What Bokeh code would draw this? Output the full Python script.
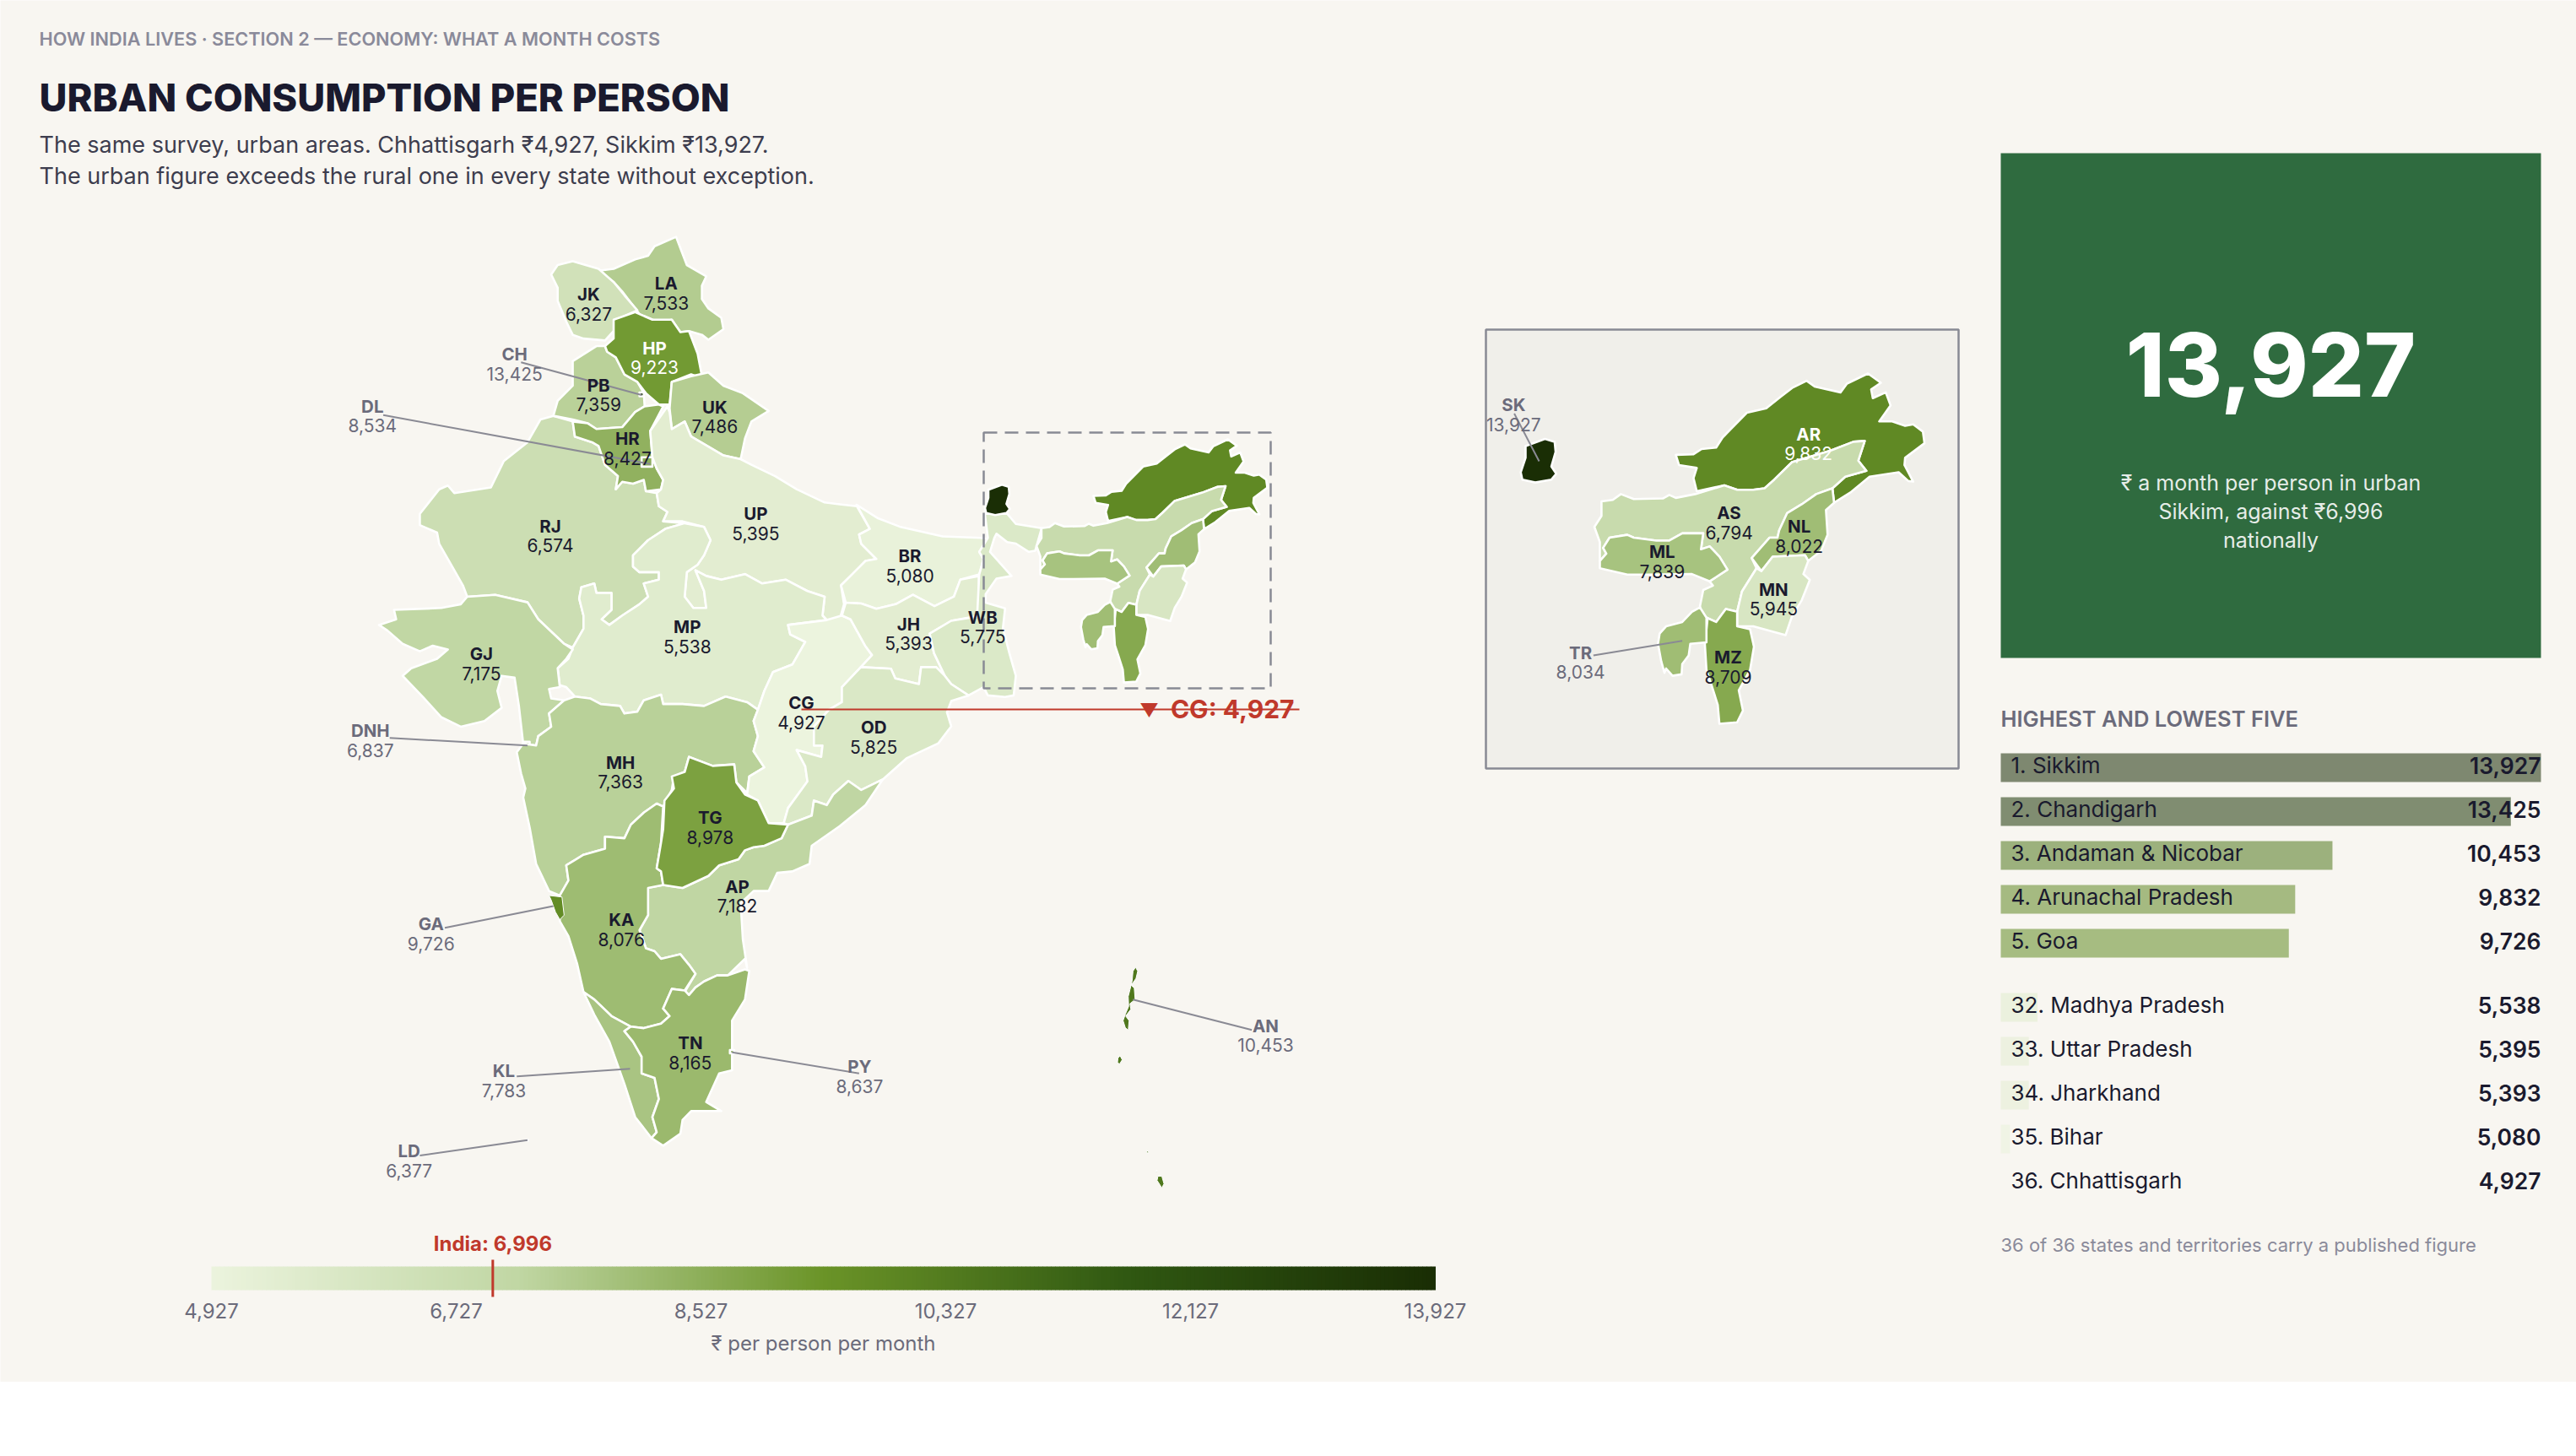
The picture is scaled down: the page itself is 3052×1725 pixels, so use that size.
from bokeh.core.properties import value
from bokeh.embed import file_html
from bokeh.plotting import figure
from bokeh.resources import INLINE
import numpy as np

# Monthly consumption per person, urban, rupees
VALUES = {
    "JK": 6327, "LA": 7533, "HP": 9223, "CH": 13425, "PB": 7359, "DL": 8534, "UK": 7486, "HR": 8427,
    "RJ": 6574, "UP": 5395, "BR": 5080, "GJ": 7175, "MP": 5538, "JH": 5393, "WB": 5775, "CG": 4927,
    "OD": 5825, "DNH": 6837, "MH": 7363, "TG": 8978, "AP": 7182, "KA": 8076, "GA": 9726, "TN": 8165,
    "KL": 7783, "PY": 8637, "LD": 6377, "AN": 10453,
    "SK": 13927, "AR": 9832, "AS": 6794, "ML": 7839, "NL": 8022, "MN": 5945, "TR": 8034, "MZ": 8709,
}
INDIA = 6996
VMIN, VMAX = 4927, 13927

TOP_NAMES = ["Sikkim", "Chandigarh", "Andaman & Nicobar", "Arunachal Pradesh", "Goa"]
TOP_CODES = ["SK", "CH", "AN", "AR", "GA"]
BOTTOM_NAMES = ["Madhya Pradesh", "Uttar Pradesh", "Jharkhand", "Bihar", "Chhattisgarh"]
BOTTOM_CODES = ["MP", "UP", "JH", "BR", "CG"]
SCALE_TICKS = [4927, 6727, 8527, 10327, 12127, 13927]

SCALE_STOPS = [0.0, 0.25, 0.5, 0.75, 1.0]
SCALE_COLORS = [(236, 244, 222), (193, 215, 164), (107, 148, 40), (48, 88, 18), (26, 46, 5)]

MAIN_OUTLINES = {
    "RJ": [[(470,530),(500,520),(545,535),(550,575),(590,590),(605,600),(620,650),(650,680),(645,715),(660,695),(685,700),(710,690),(715,720),(740,725),(745,760),(765,775),(755,800),(805,805),(760,820),(720,850),(685,890),(685,920),(700,935),(745,935),(745,955),(710,965),(720,1000),(700,1020),(660,1050),(630,1075),(612,1060),(635,1035),(635,990),(600,990),(595,965),(565,975),(560,1005),(570,1050),(570,1085),(545,1135),(525,1125),(465,1060),(440,1015),(365,995),(300,1000),(290,970),(265,920),(235,860),(230,830),(190,810),(190,780),(235,715),(255,705),(270,725),(355,710),(385,640),(440,590)]],
    "LA": [[(605,135),(640,130),(690,105),(720,95),(735,70),(785,45),(795,75),(810,120),(855,150),(845,175),(845,210),(860,235),(890,260),(895,290),(860,318),(845,305),(815,295),(795,298),(775,265),(745,272),(700,250),(680,220),(660,190),(640,165)]],
    "JK": [[(495,145),(510,120),(545,110),(605,130),(640,165),(665,200),(695,240),(645,265),(640,295),(620,320),(570,315),(545,305),(530,270),(510,215),(510,180)]],
    "PB": [[(545,375),(600,335),(620,335),(625,350),(645,365),(665,410),(695,430),(710,460),(712,495),(690,510),(660,550),(600,555),(580,540),(545,530),(500,520),(510,480),(545,440)]],
    "HP": [[(620,335),(640,315),(640,265),(690,245),(730,265),(775,265),(795,298),(815,295),(835,355),(845,415),(855,425),(820,410),(775,430),(770,490),(745,490),(715,460),(695,430),(665,410),(645,365),(625,350)]],
    "UK": [[(775,430),(820,415),(860,405),(895,440),(940,460),(1000,507),(960,535),(945,580),(935,635),(895,625),(850,595),(820,575),(805,535),(775,555),(770,500)]],
    "HR": [[(545,535),(580,540),(600,555),(660,550),(690,510),(712,495),(745,490),(755,495),(725,560),(730,630),(740,660),(755,690),(750,715),(715,720),(710,690),(685,700),(660,695),(645,715),(650,680),(620,650),(605,600),(590,590),(550,575)]],
    "DL": [[(705,630),(730,630),(730,655),(705,655)]],
    "CH": [[(700,458),(710,458),(710,468),(700,468)]],
    "UP": [[(765,495),(725,560),(730,630),(740,660),(755,690),(750,715),(740,725),(745,760),(765,775),(755,800),(800,800),(850,815),(865,850),(850,890),(835,915),(810,935),(805,1000),(825,1030),(855,1030),(850,985),(830,930),(855,945),(890,955),(945,940),(985,965),(1040,955),(1090,985),(1130,1000),(1125,1050),(1135,1062),(1165,1060),(1175,1020),(1168,970),(1190,945),(1225,905),(1250,900),(1215,860),(1210,835),(1235,820),(1205,760),(1165,755),(1130,750),(1065,715),(1015,680),(960,650),(935,635),(895,625),(850,595),(820,575),(805,535),(775,555),(770,510)]],
    "MP": [[(545,1135),(570,1085),(570,1050),(560,1005),(565,975),(595,965),(600,990),(635,990),(635,1035),(612,1060),(630,1075),(660,1050),(700,1020),(720,1000),(710,965),(745,955),(745,935),(700,935),(685,920),(685,890),(720,850),(760,820),(805,805),(850,815),(865,850),(850,890),(835,915),(810,935),(805,1000),(825,1030),(855,1030),(850,985),(830,930),(855,945),(890,955),(945,940),(985,965),(1040,955),(1090,985),(1130,1000),(1125,1050),(1135,1062),(1045,1075),(1050,1100),(1085,1120),(1055,1180),(1010,1200),(990,1250),(975,1300),(950,1280),(900,1265),(850,1290),(800,1285),(755,1285),(750,1260),(710,1275),(695,1305),(665,1310),(655,1290),(610,1285),(585,1270),(550,1265),(530,1240),(515,1235),(510,1190),(535,1165)]],
    "GJ": [[(95,1075),(135,1060),(130,1035),(240,1030),(285,1020),(300,1000),(365,995),(440,1015),(465,1060),(525,1125),(545,1140),(530,1165),(510,1190),(515,1240),(490,1245),(495,1270),(525,1275),(490,1310),(495,1345),(465,1370),(460,1395),(430,1390),(420,1290),(410,1215),(380,1210),(370,1250),(380,1295),(340,1330),(285,1345),(240,1320),(200,1270),(150,1210),(170,1190),(230,1165),(255,1140),(220,1130),(190,1145),(150,1125),(115,1090)]],
    "DNH": [[(432,1385),(445,1385),(445,1400),(432,1400)]],
    "MH": [[(490,1310),(525,1275),(550,1265),(585,1270),(610,1285),(655,1290),(665,1310),(695,1305),(710,1275),(750,1260),(755,1285),(800,1285),(850,1290),(900,1265),(950,1280),(975,1300),(965,1330),(975,1370),(965,1410),(990,1453),(955,1477),(950,1521),(925,1493),(920,1445),(870,1449),(815,1425),(805,1465),(780,1477),(775,1513),(755,1557),(740,1549),(710,1573),(680,1605),(665,1641),(620,1637),(620,1669),(570,1685),(530,1713),(535,1753),(515,1793),(490,1781),(460,1709),(445,1613),(430,1533),(435,1509),(425,1469),(415,1413),(430,1390),(460,1395),(465,1370),(495,1345)]],
    "BR": [[(1204,756),(1254,792),(1304,814),(1404,840),(1494,844),(1519,848),(1489,881),(1499,900),(1489,941),(1445,955),(1430,1000),(1385,1025),(1335,995),(1295,1020),(1250,1032),(1215,1018),(1179,1016),(1168,970),(1190,945),(1225,905),(1250,900),(1215,860),(1210,835),(1235,820)]],
    "CG": [[(1045,1075),(1135,1062),(1170,1050),(1190,1060),(1224,1130),(1240,1155),(1214,1187),(1170,1240),(1170,1280),(1140,1300),(1105,1345),(1105,1395),(1125,1395),(1122,1425),(1065,1407),(1085,1450),(1090,1490),(1045,1561),(1035,1601),(1000,1601),(975,1541),(950,1525),(955,1477),(990,1453),(965,1410),(975,1370),(965,1330),(975,1300),(990,1250),(1010,1200),(1055,1180),(1085,1120),(1050,1100)]],
    "JH": [[(1179,1016),(1215,1018),(1250,1032),(1295,1020),(1335,995),(1385,1025),(1430,1000),(1445,955),(1488,945),(1490,1050),(1424,1064),(1374,1098),(1384,1150),(1409,1210),(1389,1187),(1354,1187),(1349,1232),(1294,1217),(1284,1191),(1214,1187),(1240,1155),(1224,1130),(1190,1060),(1170,1050)]],
    "WB": [[(1502,780),(1554,780),(1574,807),(1634,818),(1619,878),(1604,881),(1574,859),(1554,855),(1529,833),(1524,844),(1514,881),(1529,900),(1564,945),(1529,952),(1504,993),(1504,1016),(1549,1031),(1544,1083),(1559,1150),(1574,1210),(1569,1262),(1549,1266),(1509,1262),(1499,1240),(1464,1262),(1424,1232),(1409,1210),(1384,1150),(1374,1098),(1424,1064),(1484,1053),(1489,941),(1499,900),(1489,881),(1509,844)]],
    "OD": [[(1214,1187),(1284,1191),(1294,1217),(1349,1232),(1354,1187),(1389,1187),(1409,1210),(1424,1232),(1464,1262),(1424,1277),(1414,1307),(1424,1344),(1394,1389),(1320,1429),(1265,1485),(1215,1513),(1185,1489),(1150,1525),(1135,1553),(1105,1541),(1100,1581),(1045,1605),(1035,1601),(1045,1561),(1090,1490),(1085,1450),(1065,1407),(1122,1425),(1125,1395),(1105,1395),(1105,1345),(1140,1300),(1170,1280),(1170,1240)]],
    "AP": [[(1265,1485),(1225,1553),(1165,1609),(1100,1661),(1095,1709),(1055,1729),(1020,1733),(1000,1781),(965,1781),(935,1813),(940,1909),(950,1985),(945,1961),(905,2005),(880,2005),(850,2021),(830,2037),(815,2057),(805,2049),(830,2001),(815,1977),(795,1949),(750,1961),(735,1941),(715,1933),(700,1885),(720,1845),(718,1773),(755,1765),(800,1773),(860,1741),(885,1713),(930,1697),(945,1673),(965,1665),(990,1661),(1030,1641),(1045,1605),(1100,1581),(1105,1541),(1135,1553),(1150,1525),(1185,1489),(1215,1513)]],
    "KA": [[(515,1793),(535,1753),(530,1713),(570,1685),(620,1669),(620,1637),(665,1641),(680,1605),(710,1573),(740,1549),(755,1557),(750,1653),(740,1721),(750,1729),(755,1765),(720,1773),(720,1845),(700,1885),(715,1933),(735,1941),(750,1961),(795,1949),(815,1977),(830,2001),(805,2045),(775,2041),(755,2093),(770,2113),(750,2133),(710,2145),(680,2141),(635,2113),(595,2069),(570,2049),(555,1973),(535,1901),(515,1861)]],
    "GA": [[(490,1793),(520,1797),(525,1845),(515,1857),(505,1837),(495,1805)]],
    "KL": [[(570,2049),(595,2069),(635,2113),(680,2141),(665,2153),(685,2181),(705,2221),(705,2265),(735,2277),(745,2333),(730,2381),(740,2421),(728,2437),(690,2381),(665,2293),(630,2181),(595,2109)]],
    "TN": [[(680,2141),(710,2145),(750,2133),(770,2113),(755,2093),(775,2041),(805,2045),(815,2057),(830,2037),(850,2021),(880,2005),(905,2005),(945,1989),(955,1993),(945,2069),(915,2125),(915,2257),(885,2265),(855,2341),(890,2365),(820,2365),(800,2389),(795,2425),(755,2457),(728,2437),(740,2421),(730,2381),(745,2333),(735,2277),(705,2265),(705,2221),(685,2181),(665,2153)]],
    "TG": [[(815,1425),(870,1449),(920,1445),(925,1493),(945,1525),(975,1541),(1000,1601),(1045,1605),(1030,1641),(990,1661),(965,1665),(945,1673),(930,1697),(885,1713),(860,1741),(800,1773),(755,1765),(750,1729),(740,1721),(750,1653),(755,1617),(758,1541),(780,1509),(775,1477),(805,1465)]],
    "PY": [[(910,2203),(920,2203),(920,2212),(910,2212)]],
    "LD": [[(438,2441),(441,2441),(441,2444)]],
    "AN": [[(1852,1983),(1857,1994),(1853,2013),(1842,2031),(1849,2039),(1851,2069),(1839,2080),(1841,2095),(1829,2113),(1837,2125),(1835,2151),(1828,2143),(1823,2125),(1829,2106),(1836,2087),(1835,2061),(1839,2043),(1844,2020),(1846,1994)],
           [(1816,2218),(1821,2229),(1815,2240),(1810,2237),(1811,2225)],
           [(1878,2468),(1883,2476),(1878,2476)],
           [(1898,2526),(1902,2521),(1901,2526)],
           [(1904,2538),(1913,2538),(1918,2558),(1913,2569),(1902,2549)]],
}
NE_OUTLINES = {
    "SK": [[(175,430),(235,405),(265,415),(268,450),(255,500),(270,525),(255,545),(205,555),(165,545),(160,520),(175,470)]],
    "AR": [[(640,460),(695,458),(720,440),(765,435),(785,400),(860,315),(920,300),(965,260),(1000,230),(1045,205),(1070,225),(1150,245),(1170,215),(1235,180),(1275,212),(1245,235),(1250,265),(1290,245),(1305,290),(1270,345),(1310,345),(1350,360),(1375,355),(1405,380),(1410,420),(1350,470),(1348,495),(1375,552),(1360,550),(1330,520),(1240,535),(1180,590),(1130,625),(1125,575),(1165,535),(1230,515),(1205,480),(1225,412),(1190,415),(1120,445),(1000,485),(945,545),(915,575),(880,580),(830,580),(790,565),(705,585),(695,540),(705,505),(650,495)]],
    "AS": [[(410,620),(445,615),(470,595),(510,612),(600,610),(620,598),(640,608),(700,595),(790,565),(830,580),(880,580),(915,575),(945,545),(1000,485),(1120,445),(1190,415),(1225,412),(1205,480),(1230,515),(1165,535),(1125,575),(1075,595),(1030,630),(985,660),(960,720),(955,745),(930,745),(875,815),(890,850),(845,930),(830,1000),(795,990),(765,1035),(735,1020),(720,1015),(715,980),(725,925),(755,910),(745,895),(800,855),(775,810),(745,775),(718,785),(725,730),(660,730),(620,755),(580,755),(510,745),(490,735),(435,745),(415,780),(425,800),(405,825),(405,760),(388,708),(410,670)]],
    "ML": [[(405,825),(425,800),(415,780),(435,745),(490,735),(510,745),(580,755),(620,755),(660,730),(725,730),(718,785),(745,775),(775,810),(800,855),(745,895),(690,870),(550,872),(490,872),(405,850)]],
    "NL": [[(1125,575),(1130,625),(1105,650),(1110,735),(1090,790),(1050,825),(1040,805),(940,810),(905,860),(875,815),(930,745),(955,745),(960,720),(985,660),(1030,630),(1075,595)]],
    "MN": [[(890,850),(905,860),(940,810),(1040,805),(1050,825),(1035,870),(1055,890),(1030,960),(1000,1015),(980,1080),(880,1050),(830,1050),(830,1000),(845,930)]],
    "MZ": [[(735,1020),(765,1035),(795,990),(830,1000),(830,1050),(870,1060),(882,1120),(870,1200),(835,1270),(848,1340),(830,1380),(775,1385),(770,1320),(750,1250),(735,1200),(730,1110),(738,1030)]],
    "TR": [[(715,985),(735,1020),(735,1105),(685,1110),(680,1150),(660,1180),(658,1215),(630,1220),(610,1195),(605,1210),(595,1170),(585,1110),(590,1075),(610,1050),(660,1035),(690,1000)]],
}

# Label anchors in the same sheet units
MAIN_LABELS = {
    "JK": (582,198), "LA": (762,168), "HP": (735,340), "CH": (410,357), "PB": (605,438), "DL": (80,495),
    "UK": (875,497), "HR": (672,581), "RJ": (493,812), "UP": (970,780), "BR": (1328,892), "GJ": (333,1152),
    "MP": (811,1080), "JH": (1325,1072), "WB": (1497,1055), "CG": (1076,1282), "OD": (1244,1347),
    "DNH": (75,1356), "MH": (656,1440), "TG": (864,1587), "AP": (927,1769), "KA": (658,1858), "GA": (216,1869),
    "TN": (818,2185), "KL": (385,2259), "PY": (1211,2247), "LD": (165,2471), "AN": (2154,2139),
}
NE_LABELS = {
    "SK": (138,288), "AR": (1051,388), "AS": (805,660), "ML": (598,794), "NL": (1022,707),
    "MN": (943,923), "TR": (345,1140), "MZ": (802,1157),
}
MAIN_LEADERS = [
    [(425,378),(705,465)], [(105,518),(725,648)], [(120,1375),(440,1395)], [(248,1879),(500,1821)],
    [(415,2273),(678,2253)], [(1210,2265),(915,2209)], [(190,2483),(440,2442)], [(2122,2150),(1846,2069)],
]
NE_LEADERS = [[(140,318),(217,482)], [(385,1150),(660,1100)]]
OUTSIDE = {"CH", "DL", "DNH", "GA", "KL", "PY", "LD", "AN", "SK", "TR"}
WHITE_TEXT = {"HP", "AR"}
THIN_EDGE = {"AN", "GA"}

BG = "#f8f6f1"
INK = "#1a1a2e"
GREY = "#6b6b7b"
RED = "#c0392b"
FRAME = "#888a94"
FONT = value("Inter")
SEMI = value("Inter SemiBold, Inter")
HEAVY = value("Inter ExtraBold, Inter")
W, H = 3052, 1637


def main_xy(pts):
    a = np.array(pts, dtype=float)
    return 400 + a[:, 0] / 1.96, 260 + a[:, 1] / 2.24


def inset_xy(pts):
    a = np.array(pts, dtype=float)
    return 1740 + a[:, 0] / 2.613, 380 + a[:, 1] / 2.904


def small_xy(pts):
    # the north east again, smaller, in its place on the main map
    x, y = inset_xy(pts)
    return (x - 1985) / 1.43 + 1295, (y - 442) / 1.44 + 520


def shade(v):
    t = (np.asarray(v, dtype=float) - VMIN) / (VMAX - VMIN)
    rgb = [np.interp(t, SCALE_STOPS, [c[i] for c in SCALE_COLORS]) for i in range(3)]
    return ["#%02x%02x%02x" % (int(r), int(g), int(b)) for r, g, b in zip(*[np.atleast_1d(c) for c in rgb])]


def put_text(x, y, txt, size, color, align="left", style="normal", alpha=1.0, font=FONT):
    p.text(x=x, y=y, text=txt, text_font=font, text_font_size=size, text_color=color,
           text_align=align, text_baseline="middle", text_font_style=style, text_alpha=alpha)


p = figure(width=W, height=H, x_range=(0, W), y_range=(H, 0), output_backend="svg", toolbar_location=None,
           x_axis_location=None, y_axis_location=None, min_border=0, outline_line_color=None,
           background_fill_color=BG, border_fill_color=BG)
p.grid.visible = False

# header
put_text([46], [45], ["HOW INDIA LIVES · SECTION 2 — ECONOMY: WHAT A MONTH COSTS"], "21.7px", "#8a8a9a", font=SEMI)
put_text([46], [115], ["URBAN CONSUMPTION PER PERSON"], "45.3px", INK, font=HEAVY)
put_text([46], [171], ["The same survey, urban areas. Chhattisgarh ₹4,927, Sikkim ₹13,927."], "27px", "#3d3d4e")
put_text([46], [208], ["The urban figure exceeds the rural one in every state without exception."], "27px", "#3d3d4e")

# inset frame goes under the states
p.quad(left=[1760], right=[2320], top=[390], bottom=[910], fill_color="#f0efea", line_color=FRAME, line_width=2.5)


def draw_states(outlines, to_xy):
    xs, ys, colors, widths = [], [], [], []
    for code, rings in outlines.items():
        for ring in rings:
            x, y = to_xy(ring)
            xs.append(x.tolist())
            ys.append(y.tolist())
            colors.append(shade(VALUES[code])[0])
            widths.append(1.0 if code in THIN_EDGE else 2.6)
    p.patches(xs, ys, fill_color=colors, line_color="white", line_width=widths, line_join="round")


draw_states(MAIN_OUTLINES, main_xy)
draw_states(NE_OUTLINES, small_xy)
draw_states(NE_OUTLINES, inset_xy)

# dashed box showing what the inset enlarges
p.quad(left=[1165], right=[1505], top=[512], bottom=[815], fill_color=None, line_color=FRAME,
       line_width=2.5, line_dash="16 9")

for leaders, to_xy in ((MAIN_LEADERS, main_xy), (NE_LEADERS, inset_xy)):
    for seg in leaders:
        x, y = to_xy(seg)
        p.line(x, y, line_color="#8a8a94", line_width=2)

for labels, to_xy in ((MAIN_LABELS, main_xy), (NE_LABELS, inset_xy)):
    for code, pos in labels.items():
        x, y = to_xy([pos])
        color = GREY if code in OUTSIDE else "white" if code in WHITE_TEXT else INK
        put_text([x[0]], [y[0]], [code], "20.5px", color, "center", "bold")
        put_text([x[0]], [y[0] + 23], [format(VALUES[code], ",")], "21px", color, "center")

# lowest state call-out
put_text([1361], [840], ["▼"], "22px", RED, "center", "bold")
put_text([1533], [839], ["CG: " + format(VALUES["CG"], ",")], "30px", RED, "right", "bold")
p.line([949, 1539], [840, 840], line_color=RED, line_width=2)

# colour scale
scale_x = lambda v: 250 + (np.asarray(v, dtype=float) - VMIN) / (VMAX - VMIN) * 1450
steps = np.linspace(VMIN, VMAX, 291)
p.quad(left=scale_x(steps[:-1]), right=scale_x(steps[1:]) + 0.5, top=1500, bottom=1528,
       fill_color=shade((steps[:-1] + steps[1:]) / 2), line_color=None)
p.segment(x0=scale_x([INDIA]), x1=scale_x([INDIA]), y0=[1492], y1=[1536], line_color=RED, line_width=3)
put_text(scale_x([INDIA]), [1473], ["India: " + format(INDIA, ",")], "24px", RED, "center", "bold")
put_text(scale_x(SCALE_TICKS), [1552] * len(SCALE_TICKS), [format(t, ",") for t in SCALE_TICKS], "24px", GREY, "center")
put_text([975], [1591], ["₹ per person per month"], "24px", GREY, "center")

# headline box
p.quad(left=[2370], right=[3010], top=[181], bottom=[779], fill_color="#2f6b3f", line_color=None)
put_text([2690], [431], [format(VALUES["SK"], ",")], "104px", "white", "center", font=HEAVY)
put_text([2690], [571], ["₹ a month per person in urban"], "25px", "white", "center", alpha=0.9)
put_text([2690], [605], ["Sikkim, against ₹" + format(INDIA, ",")], "25px", "white", "center", alpha=0.9)
put_text([2690], [639], ["nationally"], "25px", "white", "center", alpha=0.9)

# ranking table
put_text([2370], [851], ["HIGHEST AND LOWEST FIVE"], "25.5px", GREY, font=SEMI)
top_ranks = [1, 2, 3, 4, 5]
bottom_ranks = [32, 33, 34, 35, 36]
row_y = [909, 961, 1013, 1065, 1117, 1193, 1245, 1297, 1349, 1401]
names = [f"{r}. {n}" for r, n in zip(top_ranks + bottom_ranks, TOP_NAMES + BOTTOM_NAMES)]
vals = np.array([VALUES[c] for c in TOP_CODES + BOTTOM_CODES])
p.hbar(y=row_y, left=2370, right=2370 + (vals - VMIN) / (VMAX - VMIN) * 640, height=34,
       fill_color=shade(vals), fill_alpha=0.55, line_color=None)
text_y = [y - 3 for y in row_y]
put_text([2382] * 10, text_y, names, "26px", INK)
put_text([3010] * 10, text_y, [format(int(v), ",") for v in vals], "26.5px", INK, "right", font=SEMI)
put_text([2370], [1474], ["36 of 36 states and territories carry a published figure"], "22px", "#8a8a9a")

open("out.html", "w").write(file_html(p, INLINE))
